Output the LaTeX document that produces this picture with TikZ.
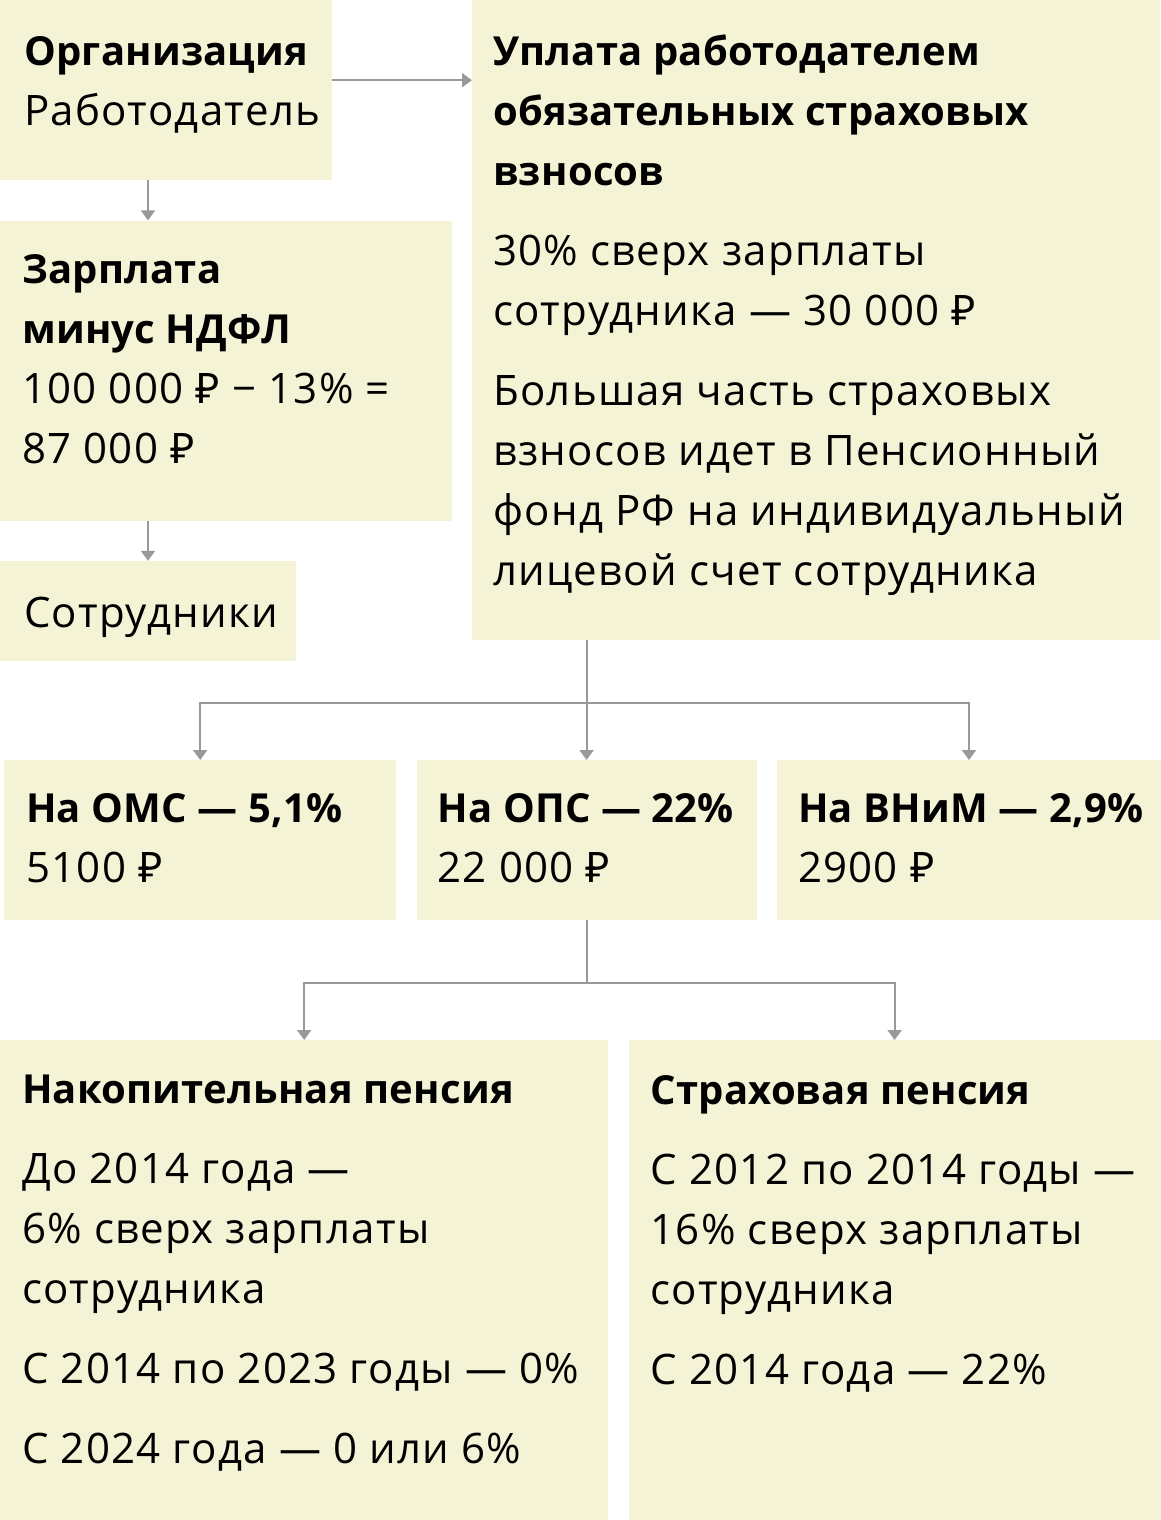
\documentclass[tikz,border=0pt]{standalone}
\usepackage{fontspec}
\setmainfont{Open Sans}[LetterSpace=3, BoldFeatures={LetterSpace=0.5}]
\newfontfamily\rubfont{Noto Sans}[LetterSpace=3]
\usetikzlibrary{arrows.meta,calc,positioning}
\definecolor{boxfill}{HTML}{F4F3D6}
\definecolor{linkgray}{HTML}{999999}
\newcommand{\hd}[1]{{\fontsize{40}{60}\selectfont\bfseries #1}}
\newcommand{\rub}{{\rubfont ₽}}
\tikzset{
  box/.style={fill=boxfill, draw=none, anchor=north west, inner sep=0pt},
  txt/.style={align=left, inner sep=0pt, font=\fontsize{42}{60}\selectfont, execute at begin node=\strut},
  link/.style={draw=linkgray, line width=2pt},
  arr/.style={link, -{Triangle[length=10pt,width=14pt]}}
}

\begin{document}
\begin{tikzpicture}[x=1pt,y=-1pt]
	\useasboundingbox (0,0) rectangle (1160,1520);
	
	% boxes
	\node[box, minimum width=332pt, minimum height=180pt] (org) at (0,0) {};
	\node[box, minimum width=688pt, minimum height=640pt] (pay) at (472,0) {};
	\node[box, minimum width=452pt, minimum height=300pt, below right=40pt and 0pt of org.south west] (net) {};
	\node[box, minimum width=296pt, minimum height=100pt, below right=40pt and 0pt of net.south west] (staff) {};
	
	\node[box, minimum width=392pt, minimum height=160pt] (oms) at (4,760) {};
	\node[box, minimum width=340pt, minimum height=160pt, below right=0pt and 20pt of oms.north east] (ops) {};
	\node[box, minimum width=384pt, minimum height=160pt, below right=0pt and 20pt of ops.north east] (vnim) {};
	
	\node[box, minimum width=608pt, minimum height=480pt] (acc) at (0,1040) {};
	\node[box, minimum width=532pt, minimum height=480pt, below right=0pt and 20pt of acc.north east] (ins) {};
	
	% texts
	\node[txt, below right=36pt and 24pt of org.north west] (orgT) {\hd{Организация}\\Работодатель};
	\node[txt, below right=35pt and 21pt of pay.north west] (payT) {\hd{Уплата работодателем}\\\hd{обязательных страховых}\\\hd{взносов}\\[20pt]
		30\% сверх зарплаты\\сотрудника — 30~000~\rub\\[20pt]
		Большая часть страховых\\взносов идет в Пенсионный\\фонд РФ на индивидуальный\\лицевой счет сотрудника};
	\node[txt, below right=34pt and 22pt of net.north west] (netT) {\hd{Зарплата}\\\hd{минус НДФЛ}\\100~000~\rub{} − 13\%~=\\87~000~\rub};
	\node[txt, below right=24pt and 24pt of staff.north west] (staffT) {Сотрудники};
	
	\node[txt, below right=33pt and 22pt of oms.north west] (omsT) {\hd{На ОМС — 5,1\%}\\5100~\rub};
	\node[txt, below right=33pt and 21pt of ops.north west] (opsT) {\hd{На ОПС — 22\%}\\22~000~\rub};
	\node[txt, below right=33pt and 21pt of vnim.north west] (vnimT) {\hd{На ВНиМ — 2,9\%}\\2900~\rub};
	
	\node[txt, below right=35pt and 22pt of acc.north west] (accT) {\hd{Накопительная пенсия}\\[20pt]
		До 2014 года —\\6\% сверх зарплаты\\сотрудника\\[20pt]
		С 2014 по 2023 годы — 0\%\\[20pt]
		С 2024 года — 0 или 6\%};
	\node[txt, below right=35pt and 22pt of ins.north west] (insT) {\hd{Страховая пенсия}\\[20pt]
		С 2012 по 2014 годы —\\16\% сверх зарплаты\\сотрудника\\[20pt]
		С 2014 года — 22\%};
	
	% connectors
	\coordinate (fork1) at ($(ops.north |- pay.south)+(0,63)$);
	\coordinate (fork2) at ($(ops.south)+(0,63)$);
	
	\draw[arr] ([yshift=10pt]org.east) -- ([yshift=10pt]org.east -| pay.west);
	\draw[arr] ([xshift=148pt]org.south west) -- ([xshift=148pt]org.south west |- net.north);
	\draw[arr] ([xshift=148pt]net.south west) -- ([xshift=148pt]net.south west |- staff.north);
	
	\draw[arr] (ops.north |- pay.south) -- (ops.north);
	\draw[arr] (fork1) -| (oms.north);
	\draw[arr] (fork1) -| (vnim.north);
	
	\draw[link] (ops.south) -- (fork2);
	\draw[arr] (fork2) -| (acc.north);
	\draw[arr] (fork2) -| (ins.north);
\end{tikzpicture}
\end{document}
